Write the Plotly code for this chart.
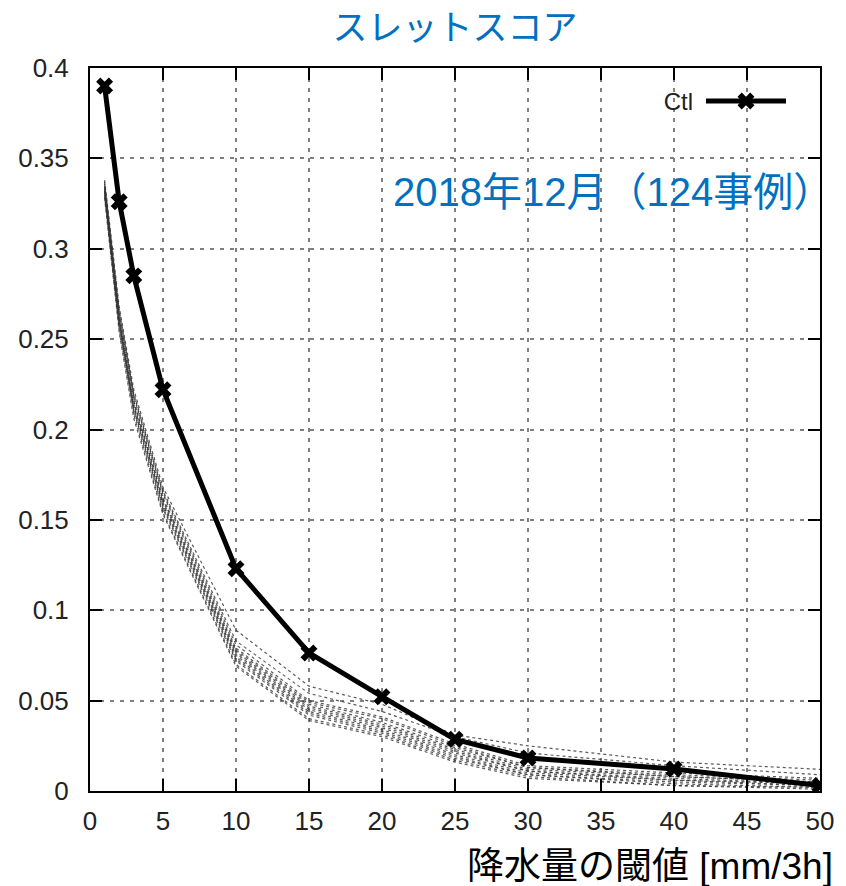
import plotly.graph_objects as go

thresholds = [1, 2, 3, 5, 10, 15, 20, 25, 30, 40, 50]
ctl = [0.390, 0.326, 0.285, 0.222, 0.123, 0.0764, 0.0522, 0.0286, 0.0183, 0.0122, 0.003]

members = [
    [0.338, 0.268, 0.222, 0.168, 0.089, 0.058, 0.048, 0.031, 0.025, 0.016, 0.012],
    [0.337, 0.266, 0.220, 0.166, 0.083, 0.054, 0.044, 0.030, 0.021, 0.014, 0.009],
    [0.336, 0.265, 0.219, 0.165, 0.081, 0.050, 0.041, 0.026, 0.014, 0.010, 0.007],
    [0.335, 0.264, 0.218, 0.164, 0.079, 0.049, 0.040, 0.025, 0.013, 0.009, 0.006],
    [0.334, 0.263, 0.216, 0.162, 0.078, 0.048, 0.038, 0.024, 0.013, 0.008, 0.005],
    [0.334, 0.262, 0.215, 0.161, 0.077, 0.047, 0.037, 0.023, 0.012, 0.008, 0.005],
    [0.333, 0.261, 0.214, 0.160, 0.076, 0.046, 0.036, 0.022, 0.011, 0.007, 0.004],
    [0.332, 0.260, 0.213, 0.159, 0.075, 0.045, 0.035, 0.021, 0.011, 0.006, 0.004],
    [0.332, 0.259, 0.212, 0.158, 0.074, 0.044, 0.034, 0.020, 0.010, 0.006, 0.003],
    [0.331, 0.258, 0.211, 0.157, 0.073, 0.043, 0.033, 0.019, 0.009, 0.005, 0.003],
    [0.330, 0.257, 0.210, 0.156, 0.072, 0.042, 0.032, 0.018, 0.009, 0.004, 0.002],
    [0.329, 0.255, 0.208, 0.154, 0.070, 0.040, 0.031, 0.017, 0.008, 0.003, 0.002],
    [0.328, 0.254, 0.206, 0.153, 0.069, 0.039, 0.030, 0.016, 0.007, 0.003, 0.001],
]

xticks = [0, 5, 10, 15, 20, 25, 30, 35, 40, 45, 50]
yticks = [0, 0.05, 0.1, 0.15, 0.2, 0.25, 0.3, 0.35, 0.4]
ytick_text = ["0", "0.05", "0.1", "0.15", "0.2", "0.25", "0.3", "0.35", "0.4"]

title_text = "スレットスコア"
period_text = "2018年12月（124事例）"
xlabel_text = "降水量の閾値 [mm/3h]"
legend_label = "Ctl"

BLUE = "#0070C0"
FONT = "Liberation Sans, Arial, Noto Sans CJK JP, sans-serif"

fig = go.Figure()
for m in members:
    fig.add_trace(go.Scatter(
        x=thresholds, y=m, mode="lines", showlegend=False,
        line=dict(color="rgba(50,50,50,0.8)", width=1.2, dash="dot"),
        hoverinfo="skip"))

fig.add_trace(go.Scatter(
    x=thresholds, y=ctl, mode="lines+markers", name="",
    legendgroup=legend_label, hovertemplate=legend_label + ": %{y}<extra></extra>",
    line=dict(color="black", width=5),
    marker=dict(symbol="x", size=15, color="black")))

axis_common = dict(
    showline=True, linecolor="black", linewidth=2, mirror="ticks",
    ticks="inside", ticklen=12, tickwidth=2, tickcolor="black",
    showgrid=True, gridcolor="#808080", gridwidth=1.5, griddash="4px,6px",
    zeroline=False, tickfont=dict(family=FONT, size=26, color="#222222"),
)

fig.update_xaxes(range=[0, 50], tickvals=xticks, ticklabelstandoff=6, **axis_common)
fig.update_yaxes(range=[0, 0.4], tickvals=yticks, ticktext=ytick_text,
                 ticklabelstandoff=14, **axis_common)

fig.update_layout(
    width=846, height=886,
    margin=dict(l=90, r=23, t=68, b=95),
    plot_bgcolor="white", paper_bgcolor="white",
    font=dict(family=FONT),
    title=dict(text=title_text, x=0.5, xref="paper", y=1 - 28 / 886, yref="container",
               xanchor="center", yanchor="middle",
               font=dict(family="Noto Sans CJK JP", size=35, color=BLUE)),
    legend=dict(x=0.968, y=0.985, xanchor="right", yanchor="top",
                bgcolor="rgba(255,255,255,0)", itemwidth=80,
                title=dict(text=legend_label, side="left",
                           font=dict(family=FONT, size=24, color="#222222")),
                font=dict(family=FONT, size=24, color="#222222")),
    annotations=[
        dict(text=period_text, xref="paper", yref="paper", x=1.02, y=0.828,
             xanchor="right", yanchor="middle", showarrow=False,
             font=dict(family=FONT, size=40, color=BLUE)),
        dict(text=xlabel_text, xref="paper", yref="paper", x=1.02, y=-0.104,
             xanchor="right", yanchor="middle", showarrow=False,
             font=dict(family=FONT, size=37, color="black")),
    ],
)

fig.write_html("out.html")
